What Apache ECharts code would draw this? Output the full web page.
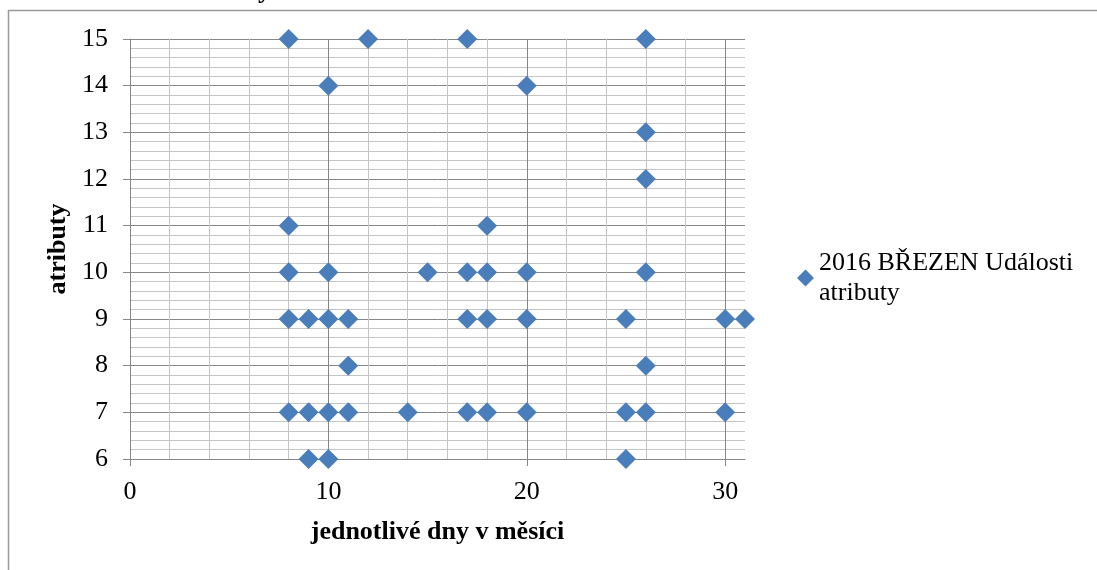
<!DOCTYPE html>
<html><head><meta charset="utf-8">
<script src="https://cdn.jsdelivr.net/npm/echarts@6/dist/echarts.min.js"></script>
<style>html,body{margin:0;padding:0;background:#fff}#c{width:1097px;height:570px}</style>
</head><body><div id="c"></div>
<script>
const seriesName = '2016 BŘEZEN Události atributy';
const xAxisName = 'jednotlivé dny v měsíci';
const yAxisName = 'atributy';
const days  = [8,12,17,26, 10,20, 26, 26, 8,18, 8,10,15,17,18,20,26, 8,9,10,11,17,18,20,25,30,31, 11,26, 8,9,10,11,14,17,18,20,25,26,30, 9,10,25];
const attrs = [15,15,15,15, 14,14, 13, 12, 11,11, 10,10,10,10,10,10,10, 9,9,9,9,9,9,9,9,9,9, 8,8, 7,7,7,7,7,7,7,7,7,7,7, 6,6,6];
const xTickValues = [0,10,20,30];
const xMajorGrid = [10,20,30];
const xMinorGrid = [2,4,6,8,12,14,16,18,22,24,26,28];

const FONT = '"Liberation Serif", "Times New Roman", serif';
const MAJOR = '#868686';
const MINOR = '#c4c4c4';
const points = days.map((d,i)=>[d, attrs[i]]);

const chart = echarts.init(document.getElementById('c'), null, {renderer:'canvas'});
chart.setOption({
  animation:false,
  backgroundColor:'#fff',
  textStyle:{fontFamily:FONT},
  grid:{left:130, right:352, top:39, bottom:111, containLabel:false},
  graphic:[
    {type:'rect', silent:true, z:-10, shape:{x:8.5, y:10.5, width:1200, height:700},
     style:{fill:'none', stroke:'#999', lineWidth:1.5}},
    {type:'text', silent:true, x:271, y:-9,
     style:{text:'2016 BŘEZEN Události atributy', font:'bold 26px '+FONT, fill:'#000', textAlign:'right', textVerticalAlign:'middle'}}
  ],
  legend:{
    data:[seriesName], left:797, top:233, padding:0, orient:'vertical',
    icon:'diamond', itemWidth:17, itemHeight:17,
    formatter:(n)=>n.replace(' atributy','\natributy'),
    textStyle:{fontFamily:FONT, fontSize:26, color:'#000', lineHeight:30, padding:[30,0,0,0]}
  },
  xAxis:{
    type:'value', min:0, max:31, interval:10,
    name:xAxisName, nameLocation:'middle', nameGap:60,
    nameTextStyle:{fontFamily:FONT, fontSize:26, fontWeight:'bold', color:'#000'},
    axisLine:{show:true, onZero:false, lineStyle:{color:MAJOR, width:1}},
    axisTick:{show:true, inside:false, length:7, customValues:xTickValues, lineStyle:{color:MAJOR}},
    axisLabel:{customValues:xTickValues, fontFamily:FONT, fontSize:26, color:'#000', margin:20},
    splitLine:{show:false}
  },
  yAxis:{
    type:'value', min:6, max:15, interval:1,
    name:yAxisName, nameLocation:'middle', nameGap:59, nameRotate:90,
    nameTextStyle:{fontFamily:FONT, fontSize:26, fontWeight:'bold', color:'#000'},
    axisLine:{show:true, onZero:false, lineStyle:{color:MAJOR, width:1}},
    axisTick:{show:true, inside:false, length:7, lineStyle:{color:MAJOR}},
    axisLabel:{fontFamily:FONT, fontSize:26, color:'#000', margin:22},
    splitLine:{show:true, lineStyle:{color:MAJOR, width:1}},
    minorTick:{show:false, splitNumber:5},
    minorSplitLine:{show:true, lineStyle:{color:MINOR, width:1}}
  },
  series:[
    {type:'scatter', name:'grid-x', data:[], z:1, silent:true,
     markLine:{z:1, silent:true, symbol:'none', label:{show:false}, animation:false,
       data:[
         ...xMinorGrid.map(v=>({xAxis:v, lineStyle:{color:MINOR, width:1, type:'solid'}})),
         ...xMajorGrid.map(v=>({xAxis:v, lineStyle:{color:MAJOR, width:1, type:'solid'}}))
       ]}},
    {type:'scatter', name:seriesName, data:points, z:3,
     symbol:'diamond', symbolSize:20,
     itemStyle:{color:'#4a7ebb', opacity:1}}
  ]
});
</script></body></html>
